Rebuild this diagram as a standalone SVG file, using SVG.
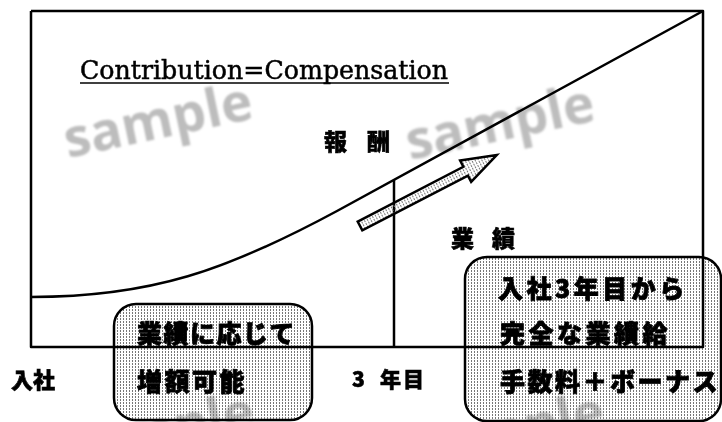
<svg xmlns="http://www.w3.org/2000/svg" width="722" height="422" viewBox="0 0 722 422">
<defs>
<pattern id="dots" width="3" height="3" patternUnits="userSpaceOnUse"><rect width="1" height="2" fill="#777"/></pattern>
<filter id="blur" x="-10%" y="-30%" width="120%" height="160%"><feGaussianBlur stdDeviation="1.3"/></filter>
</defs>
<style>
.jp{font-family:"Noto Sans CJK JP","Noto Sans CJK SC",sans-serif;font-weight:900;fill:#000;stroke:#000;stroke-width:0.6}
.ln{fill:none;stroke:#000;stroke-width:2.5;stroke-linejoin:round}
.box{fill:url(#dots);stroke:#000;stroke-width:2.5}
.wm{font-family:"Open Sans","DejaVu Sans",sans-serif;font-weight:700;font-size:53px;fill:#bdbdbd}
.bt{font-size:25px;stroke-width:0.8}
</style>
<rect width="722" height="422" fill="#fff"/>
<g id="watermarks" filter="url(#blur)">
<text class="wm" transform="translate(68,158) rotate(-12)">sample</text>
<text class="wm" transform="translate(410,160) rotate(-12)">sample</text>
<text class="wm" transform="translate(70,468) rotate(-12)">sample</text>
<text class="wm" transform="translate(420,468) rotate(-12)">sample</text>
</g>
<g id="box-left">
<rect class="box" x="114" y="304" width="198" height="116" rx="22"/>
</g>
<g id="box-right">
<rect class="box" x="465" y="257" width="256" height="164" rx="22"/>
</g>
<g id="frame">
<polyline class="ln" points="31,11 703,11 703,347 31,347 31,11"/>
<line class="ln" x1="394" y1="180" x2="394" y2="347"/>
</g>
<g id="connectors">
<path id="curve" class="ln" d="M31,297 C151,297 227,270.4 337,211 L703,11"/>
<polygon id="arrow" class="box" transform="translate(360,226) rotate(-27.4)" points="0,-5 119,-5 119,-12 154,0 119,12 119,5 0,5"/>
</g>
<g id="title">
<text x="80" y="79" font-family="DejaVu Serif" font-size="26" stroke="#000" stroke-width="0.5" textLength="368" lengthAdjust="spacingAndGlyphs">Contribution=Compensation</text>
<line x1="80" y1="83" x2="449" y2="83" stroke="#000" stroke-width="1.6"/>
</g>
<g id="label-reward"><text class="jp" font-size="23" x="324 367" y="150">報酬</text></g>
<g id="label-performance"><text class="jp" font-size="23" x="451 492" y="247">業績</text></g>
<g id="label-join"><text class="jp" font-size="22" x="11" y="388">入社</text></g>
<g id="label-3y"><text class="jp" font-size="21" x="352 380 403" y="387">3年目</text></g>
<g id="box-left-text">
<text class="jp bt" x="137" y="343" letter-spacing="1.5">業績に応じて</text>
<text class="jp bt" x="137" y="391" letter-spacing="2.5">増額可能</text>
</g>
<g id="box-right-text">
<text class="jp bt" x="498" y="298" letter-spacing="3.5">入社3年目から</text>
<text class="jp bt" x="500" y="343" letter-spacing="3.5">完全な業績給</text>
<text class="jp bt" x="500" y="391" letter-spacing="2.5">手数料＋ボーナス</text>
</g>
</svg>
